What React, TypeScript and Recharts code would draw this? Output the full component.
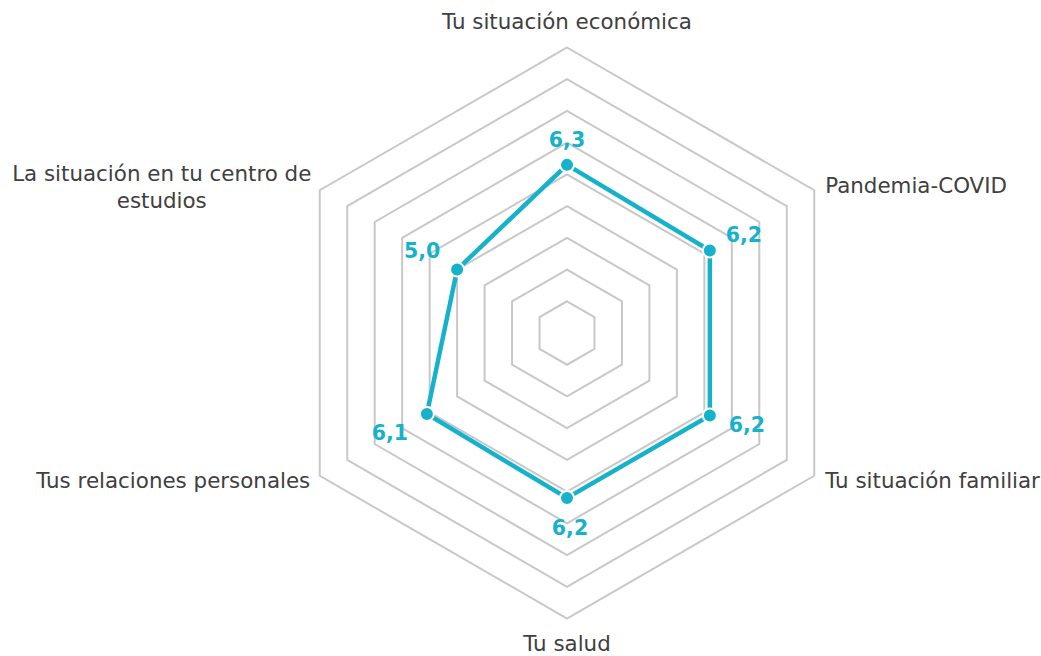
import { RadarChart, Radar, PolarGrid, PolarAngleAxis, PolarRadiusAxis, LabelList } from 'recharts';

const CATEGORIES = [
  'Tu situación económica',
  'Pandemia-COVID',
  'Tu situación familiar',
  'Tu salud',
  'Tus relaciones personales',
  'La situación en tu centro de estudios',
];
const VALUES = [6.3, 6.2, 6.2, 6.2, 6.1, 5.0];
const SCALE = [1, 10];

const data = CATEGORIES.map((name, i) => ({ name, value: VALUES[i] }));

const CX = 567;
const CY = 333;
const R = 285.5;
const CYAN = '#16B2CC';
const TEXT = '#404040';
const FONT = '"DejaVu Sans", Verdana, sans-serif';

// category label placement relative to the outer vertex
const TICK_POS = [
  { dx: 0, dy: -19, anchor: 'middle' },
  { dx: 11, dy: 3, anchor: 'start' },
  { dx: 11, dy: 12.5, anchor: 'start' },
  { dx: 0, dy: 32, anchor: 'middle' },
  { dx: -9.5, dy: 12.5, anchor: 'end' },
  { dx: -158, dy: -9, anchor: 'middle' },
];

// value label placement relative to the point
const LABEL_POS = [
  { dx: 0, dy: -25 },
  { dx: 34, dy: -16 },
  { dx: 37, dy: 10 },
  { dx: 3, dy: 30 },
  { dx: -37, dy: 19 },
  { dx: -35, dy: -19 },
];

function AngleTick(props: any) {
  const { x, y, payload } = props;
  const idx = CATEGORIES.indexOf(payload.value);
  const ddx = x - CX;
  const ddy = y - CY;
  const len = Math.sqrt(ddx * ddx + ddy * ddy) || 1;
  const vx = CX + (ddx / len) * R;
  const vy = CY + (ddy / len) * R;
  const p = TICK_POS[idx] || TICK_POS[0];
  const style = { fontFamily: FONT, fontSize: 21.4, fill: TEXT };
  if (idx === 5) {
    return (
      <text x={vx + p.dx} y={vy + p.dy} textAnchor="middle" style={style}>
        <tspan x={vx + p.dx}>La situación en tu centro de</tspan>
        <tspan x={vx + p.dx} dy={27}>estudios</tspan>
      </text>
    );
  }
  return (
    <text x={vx + p.dx} y={vy + p.dy} textAnchor={p.anchor as any} style={style}>
      {payload.value}
    </text>
  );
}

function ValueLabel(props: any) {
  const { x, y, value, index } = props;
  const p = LABEL_POS[index] || { dx: 0, dy: -20 };
  return (
    <text
      x={x + p.dx}
      y={y + p.dy}
      textAnchor="middle"
      dominantBaseline="central"
      style={{ fontFamily: FONT, fontSize: 20.5, fontWeight: 'bold', fill: CYAN }}
    >
      {Number(value).toFixed(1).replace('.', ',')}
    </text>
  );
}

export default function App() {
  return (
    <div style={{ position: 'absolute', left: 0, top: 0, width: 1041, height: 656, background: '#fff' }}>
      <RadarChart width={1041} height={656} data={data} cx={CX} cy={CY} outerRadius={R} margin={{ top: 0, right: 0, bottom: 0, left: 0 }}>
        <PolarGrid gridType="polygon" radialLines={false} stroke="#C8C8C8" strokeWidth={2} />
        <PolarAngleAxis dataKey="name" tick={<AngleTick />} tickLine={false} axisLine={false} />
        <PolarRadiusAxis domain={SCALE} tickCount={10} tick={false} axisLine={false} />
        <Radar
          dataKey="value"
          stroke={CYAN}
          strokeWidth={4.5}
          fill={CYAN}
          fillOpacity={0}
          dot={{ r: 7, fill: CYAN, stroke: '#fff', strokeWidth: 2, fillOpacity: 1 }}
          isAnimationActive={false}
        >
          <LabelList dataKey="value" content={<ValueLabel />} />
        </Radar>
      </RadarChart>
    </div>
  );
}
